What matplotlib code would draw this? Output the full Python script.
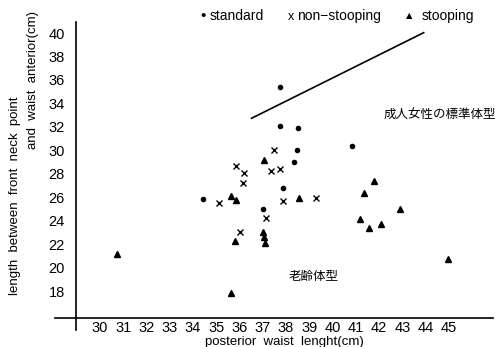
import matplotlib.pyplot as plt

plt.rcParams["font.family"] = ["Liberation Sans", "Noto Sans CJK JP"]

# standard (filled dots)
std_x = [37.74, 37.74, 38.52, 38.47, 38.35, 40.84, 37.89, 34.44, 37.02]
std_y = [35.42, 32.10, 31.90, 30.03, 29.00, 30.37, 26.76, 25.82, 25.00]

# non-stooping (x)
non_x = [37.49, 35.87, 36.19, 36.16, 37.35, 37.76, 37.85, 39.27, 35.11, 37.16, 36.02]
non_y = [30.03, 28.66, 28.04, 27.24, 28.27, 28.43, 25.68, 25.91, 25.53, 24.20, 23.06]

# stooping (triangles)
stp_x = [37.05, 35.62, 35.87, 38.55, 35.80, 36.99, 37.05, 37.09, 35.62,
         41.79, 41.35, 42.90, 41.17, 42.10, 41.56, 44.97, 30.74]
stp_y = [29.17, 26.10, 25.76, 25.91, 22.30, 23.01, 22.58, 22.07, 17.86,
         27.38, 26.33, 24.97, 24.17, 23.69, 23.35, 20.71, 21.16]

# boundary line for adult standard body type
line_x = [36.52, 43.92]
line_y = [32.73, 40.03]

xticks = list(range(30, 46))
yticks = list(range(18, 41, 2))

fig = plt.figure(figsize=(4.95, 3.47), dpi=100)
ax = fig.add_axes([0.1535, 0.0836, 0.842, 0.8588])
ax.set_xlim(28.97, 46.89)
ax.set_ylim(15.70, 41.11)

ax.plot(std_x, std_y, "o", color="black", ms=3, ls="none")
ax.plot(non_x, non_y, "x", color="black", ms=4, mew=1, ls="none")
ax.plot(stp_x, stp_y, "^", color="black", ms=4, ls="none")
ax.plot(line_x, line_y, color="black", lw=1.2)

for s in ax.spines.values():
    s.set_visible(False)
# axis lines (the original runs them past the corner)
ax.plot([-0.05, 1.0], [0, 0], transform=ax.transAxes, color="black", lw=1.2, clip_on=False)
ax.plot([0, 0], [-0.04, 0.993], transform=ax.transAxes, color="black", lw=1.2, clip_on=False)

ax.set_xticks(xticks)
ax.set_yticks(yticks)
ax.tick_params(length=0, labelsize=10.5)
ax.tick_params(axis="y", pad=8)
ax.tick_params(axis="x", pad=2)

ax.set_xlabel("posterior  waist  lenght(cm)", fontsize=9.5, labelpad=1)

fig.text(0.03, 0.435, "length  between  front  neck  point", rotation=90,
         ha="center", va="center", fontsize=9.5)
fig.text(0.067, 0.77, "and  waist  anterior(cm)", rotation=90,
         ha="center", va="center", fontsize=9.5)

# legend row at the top
fig.text(0.41, 0.955, "•", fontsize=11, ha="center", va="center")
fig.text(0.424, 0.955, "standard", fontsize=10, va="center")
fig.text(0.588, 0.952, "x", fontsize=9, ha="center", va="center")
fig.text(0.601, 0.955, "non−stooping", fontsize=10, va="center")
fig.text(0.826, 0.955, "▲", fontsize=6, ha="center", va="center", family="DejaVu Sans")
fig.text(0.851, 0.955, "stooping", fontsize=10, va="center")

fig.text(0.775, 0.668, "成人女性の標準体型", fontsize=9, va="center",
         family=["Noto Sans CJK JP"])
fig.text(0.582, 0.202, "老齢体型", fontsize=9, va="center",
         family=["Noto Sans CJK JP"])

fig.savefig("out.png", dpi=100)
